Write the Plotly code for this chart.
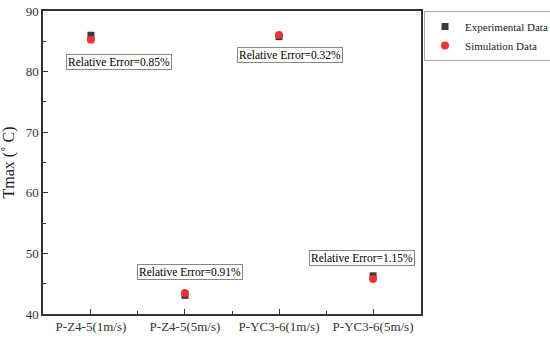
import plotly.graph_objects as go

categories = ["P-Z4-5(1m/s)", "P-Z4-5(5m/s)", "P-YC3-6(1m/s)", "P-YC3-6(5m/s)"]
experimental = [86.0, 43.08, 85.77, 46.3]
simulation = [85.27, 43.47, 86.04, 45.77]
error_labels = ["Relative Error=0.85%", "Relative Error=0.91%", "Relative Error=0.32%", "Relative Error=1.15%"]
label_x = [0.295, 1.056, 2.117, 2.88]
label_y = [81.58, 46.88, 82.74, 49.19]

xpos = list(range(len(categories)))
font = "Times New Roman, Liberation Serif, serif"

fig = go.Figure()
fig.add_trace(go.Scatter(x=xpos, y=experimental, mode="markers", name="Experimental Data",
                         marker=dict(symbol="square", size=7, color="#3a3a3a")))
fig.add_trace(go.Scatter(x=xpos, y=simulation, mode="markers", name="Simulation Data",
                         marker=dict(symbol="circle", size=8, color="#ee3338")))

for t, x, y in zip(error_labels, label_x, label_y):
    fig.add_annotation(x=x, y=y, text=t, showarrow=False, xref="x", yref="y",
                       font=dict(family=font, size=11.5, color="black"),
                       bordercolor="#888888", borderwidth=1, borderpad=1, bgcolor="white")

fig.update_layout(
    width=550, height=340,
    margin=dict(l=43, r=129, t=11, b=26, autoexpand=False),
    plot_bgcolor="white", paper_bgcolor="white",
    font=dict(family=font, size=13, color="#333"),
    showlegend=True,
    legend=dict(x=1.008, y=1.0, xanchor="left", yanchor="top",
                bordercolor="#aaaaaa", borderwidth=1, bgcolor="rgba(0,0,0,0)",
                font=dict(family=font, size=11, color="#222"),
                tracegroupgap=0, itemwidth=30),
)
fig.update_xaxes(range=[-0.51, 3.51], tickmode="array", tickvals=xpos, ticktext=categories,
                 showline=True, linecolor="#333", linewidth=1.5, mirror=True,
                 ticks="inside", ticklen=5, tickcolor="#333", showgrid=False, zeroline=False,
                 tickfont=dict(family=font, size=13, color="#333"),
                 minor=dict(tickmode="array", tickvals=[0.5, 1.5, 2.5], ticks="inside", ticklen=3, tickcolor="#333"))
fig.update_yaxes(range=[40, 90], dtick=10, showline=True, linecolor="#333", linewidth=1.5, mirror=True,
                 ticks="inside", ticklen=5, tickcolor="#333", showgrid=False, zeroline=False,
                 tickfont=dict(family=font, size=13, color="#333"),
                 minor=dict(dtick=5, ticks="inside", ticklen=3, tickcolor="#333"),
                 title=dict(text="Tmax (˚ C)", font=dict(family=font, size=16, color="#222"), standoff=8))

fig.write_html("out.html", config={"displayModeBar": False},
               post_script="document.body.style.margin='0';")
